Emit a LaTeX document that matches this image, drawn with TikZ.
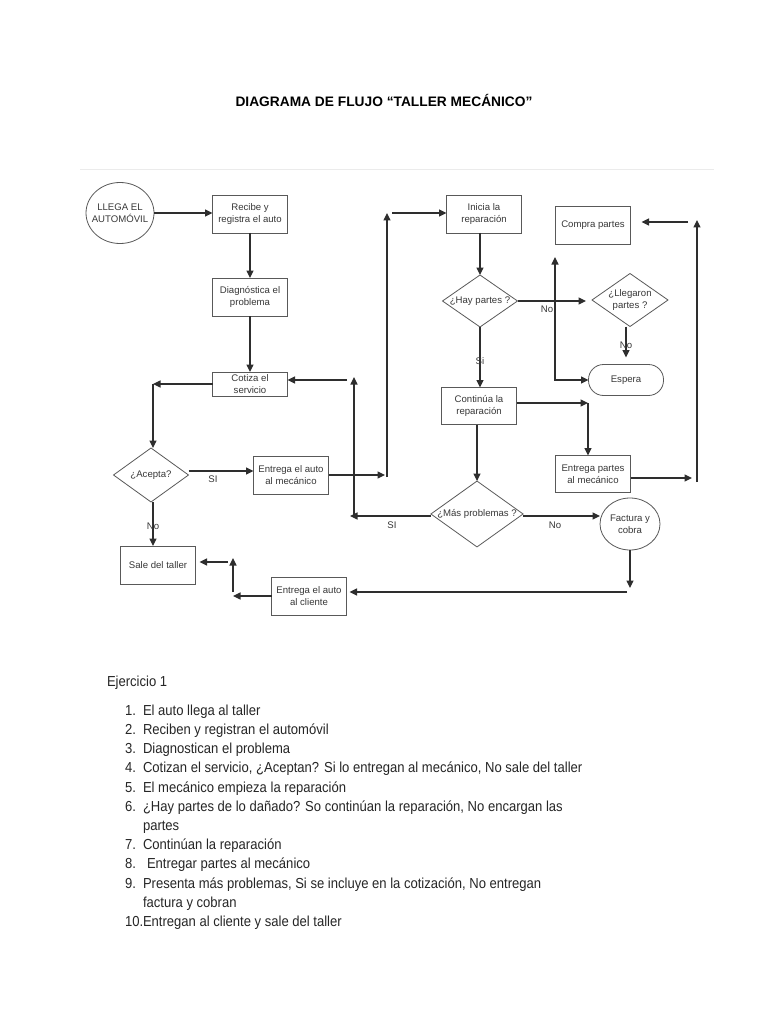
\documentclass[tikz,border=0pt]{standalone}
\usepackage{fontspec}
\setmainfont{Liberation Sans}
\newfontfamily\listf[FakeStretch=0.9]{Liberation Sans}
\newfontfamily\boxf{Liberation Sans}
\usetikzlibrary{shapes.geometric,arrows.meta}
\begin{document}
\begin{tikzpicture}[x=1pt,y=-1pt,
  every node/.style={inner sep=0pt, outer sep=0pt},
  shp/.style={draw=black!65, line width=0.8pt, align=center,
    font=\boxf\fontsize{9.6}{11.5}\selectfont, text=black!78},
  boxx/.style={shp, rectangle, minimum width=75pt, minimum height=38pt},
  dmd/.style={shp, diamond, aspect=1.4},
  ell/.style={shp, ellipse},
  lbl/.style={font=\boxf\fontsize{9.6}{11}\selectfont, text=black!78},
  tip/.style={-{Triangle[length=7.5pt,width=7pt]}},
  arr/.style={draw=black!82, line width=1.2pt, tip},
  lst/.style={anchor=base west, font=\listf\fontsize{14.5}{17}\selectfont, text=black!85}
]
\useasboundingbox (0,0) rectangle (768,1024);
\fill[white] (0,0) rectangle (768,1024);

% title and separator
\node[font=\bfseries\fontsize{13.75}{16}\selectfont] (title) at (384,100) {DIAGRAMA DE FLUJO “TALLER MECÁNICO”};
\coordinate (sepl) at (80,170);
\coordinate (sepr) at (714,170);
\draw[black!8, line width=1pt] (sepl) -- (sepr);

% nodes
\node[ell, minimum width=68pt, minimum height=61pt] (lle) at (120,213) {\makebox[0pt]{LLEGA EL}\\\makebox[0pt]{AUTOMÓVIL}};
\node[boxx] (rec) at (250,214) {Recibe y\\registra el auto};
\node[boxx] (dia) at (250,297) {Diagnóstica el\\problema};
\node[boxx, minimum height=24pt] (cot) at (250,384) {Cotiza el\\servicio};
\node[dmd, minimum width=75pt, minimum height=54pt] (ace) at (151,475) {¿Acepta?};
\node[boxx] (ent) at (291,475) {Entrega el auto\\al mecánico};
\node[boxx] (sal) at (158,565) {Sale del taller};
\node[boxx] (cli) at (309,596) {Entrega el auto\\al cliente};
\node[boxx] (ini) at (484,214) {Inicia la\\reparación};
\node[dmd, minimum width=75pt, minimum height=52pt] (hay) at (480,301) {¿Hay partes ?};
\node[boxx] (com) at (593,225) {Compra partes};
\node[dmd, minimum width=76pt, minimum height=53pt] (lleg) at (630,300) {¿Llegaron\\partes ?};
\node[shp, rectangle, rounded corners=15pt, minimum width=75pt, minimum height=31pt] (esp) at (626,380) {Espera};
\node[boxx, minimum height=37pt] (con) at (479,406) {Continúa la\\reparación};
\node[boxx, minimum height=37pt] (epa) at (593,474) {Entrega partes\\al mecánico};
\node[dmd, minimum width=92pt, minimum height=64pt] (mas) at (477,514) {¿Más problemas ?};
\node[ell, minimum width=60pt, minimum height=52pt] (fac) at (630,524) {\makebox[0pt]{Factura y}\\\makebox[0pt]{cobra}};

% free ends
\coordinate (c1) at (153,384);
\coordinate (ya) at (200,471);
\coordinate (e1) at (385,475);
\coordinate (e2) at (387,477);
\coordinate (e3) at (387,213);
\coordinate (e4) at (392,213);
\coordinate (k1) at (555,257);
\coordinate (k2) at (555,380);
\coordinate (r1) at (688,222);
\coordinate (r2) at (697,482);
\coordinate (r3) at (697,220);
\coordinate (q1) at (588,403);
\coordinate (p1) at (692,478);
\coordinate (m1) at (350,516);
\coordinate (m2) at (354,517);
\coordinate (m3) at (354,377);
\coordinate (m4) at (347,380);
\coordinate (f1) at (631,588);
\coordinate (f2) at (627,592);
\coordinate (g1) at (233,596);
\coordinate (g2) at (233,592);
\coordinate (g3) at (233,558);
\coordinate (g4) at (228,562);

% connectors
\draw[arr] (lle.east) -- (lle.east -| rec.west);
\draw[arr] (rec.south) -- (dia.north);
\draw[arr] (dia.south) -- (cot.north);
\draw[arr] (cot.west) -- (c1);
\draw[arr] (c1) -- (c1 |- ace.north);
\draw[arr] (ace.east |- ya) -- (ent.west |- ya);
\draw[arr] (ace.south -| c1) -- (sal.north -| c1);
\draw[arr] (ent.east) -- (e1);
\draw[arr] (e2) -- (e3);
\draw[arr] (e4) -- (e4 -| ini.west);
\draw[arr] (ini.south -| hay.north) -- (hay.north);
\draw[arr, shorten >=6pt] (hay.east) -- (hay.east -| lleg.west);
\draw[arr, {Triangle[length=7.5pt,width=7pt]}-{Triangle[length=7.5pt,width=7pt]}] (k1) -- (k2) -- (esp.west);
\draw[arr, shorten >=7pt] (lleg.south -| esp.north) -- (esp.north);
\draw[arr, shorten >=11pt] (r1) -- (r1 -| com.east);
\draw[arr] (r2) -- (r3);
\draw[arr] (hay.south) -- (con.north -| hay.south);
\draw[arr] (con.east |- q1) -- (q1);
\draw[arr] (q1) -- (q1 |- epa.north);
\draw[arr] (epa.east |- p1) -- (p1);
\draw[arr] (mas.north |- con.south) -- (mas.north);
\draw[arr] (mas.west |- m1) -- (m1);
\draw[arr] (m2) -- (m3);
\draw[arr] (m4) -- (m4 -| cot.east);
\draw[arr] (mas.east |- m1) -- (m1 -| fac.west);
\draw[arr] (fac.south) -- (fac.south |- f1);
\draw[arr, shorten >=3pt] (f2) -- (f2 -| cli.east);
\draw[arr] (cli.west) -- (g1);
\draw[arr] (g2) -- (g3);
\draw[arr, shorten >=4pt] (g4) -- (g4 -| sal.east);

% labels
\node[lbl] (l1) at (213,479) {SI};
\node[lbl] (l2) at (153,526) {No};
\node[lbl] (l3) at (547,309) {No};
\node[lbl] (l4) at (626,345) {No};
\node[lbl] (l5) at (480,361) {Si};
\node[lbl] (l6) at (392,525) {SI};
\node[lbl] (l7) at (555,525) {No};

% exercise list
\node[lst] (ej) at (107,686) {Ejercicio 1};
\foreach \n/\t [count=\k from 0] in {1./El auto llega al taller,
  2./Reciben y registran el automóvil,
  3./Diagnostican el problema,
  4./{Cotizan el servicio, ¿Aceptan? Si lo entregan al mecánico, No sale del taller},
  5./El mecánico empieza la reparación,
  6./{¿Hay partes de lo dañado? So continúan la reparación, No encargan las},
  /partes,
  7./Continúan la reparación,
  8./{\hspace{4pt}Entregar partes al mecánico},
  9./{Presenta más problemas, Si se incluye en la cotización, No entregan},
  /factura y cobran,
  10./Entregan al cliente y sale del taller}{
  \node[lst] (num\k) at (125,{715.3+19.2*\k}) {\n};
  \node[lst] (txt\k) at (143,{715.3+19.2*\k}) {\t};
}
\end{tikzpicture}
\end{document}
